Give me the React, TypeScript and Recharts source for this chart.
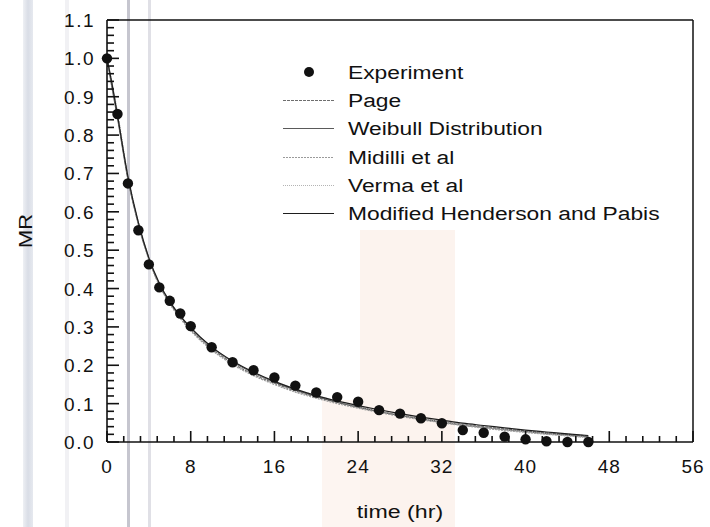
import React from 'react';
import { ComposedChart, Line, Scatter, XAxis, YAxis, ZAxis, ReferenceLine, Legend } from 'recharts';

// ---------- data ----------
const expTime = [0, 1, 2, 3, 4, 5, 6, 7, 8, 10, 12, 14, 16, 18, 20, 22, 24, 26, 28, 30, 32, 34, 36, 38, 40, 42, 44, 46];
const expMR = [1.0, 0.855, 0.674, 0.552, 0.463, 0.403, 0.368, 0.335, 0.302, 0.247, 0.208, 0.187, 0.168, 0.147, 0.129, 0.117, 0.105, 0.083, 0.074, 0.062, 0.049, 0.031, 0.024, 0.014, 0.007, 0.002, 0.0, 0.0];

const modelTime = [0, 0.5, 1, 2, 3, 4, 5, 6, 7, 8, 10, 12, 14, 16, 18, 20, 22, 24, 26, 28, 30, 32, 34, 36, 38, 40, 42, 44, 46];
const pageMR = [1, 0.93, 0.855, 0.69, 0.57, 0.478, 0.41, 0.362, 0.325, 0.293, 0.243, 0.205, 0.176, 0.153, 0.133, 0.117, 0.103, 0.091, 0.08, 0.07, 0.061, 0.053, 0.046, 0.04, 0.034, 0.029, 0.024, 0.02, 0.016];
const weibullMR = [1, 0.92, 0.845, 0.685, 0.568, 0.478, 0.412, 0.365, 0.328, 0.297, 0.247, 0.209, 0.18, 0.156, 0.136, 0.119, 0.104, 0.091, 0.079, 0.069, 0.06, 0.052, 0.044, 0.038, 0.032, 0.027, 0.022, 0.018, 0.014];
const midilliMR = [1, 0.925, 0.85, 0.688, 0.566, 0.474, 0.408, 0.36, 0.322, 0.29, 0.24, 0.202, 0.173, 0.15, 0.13, 0.114, 0.1, 0.088, 0.077, 0.067, 0.058, 0.05, 0.043, 0.036, 0.03, 0.025, 0.02, 0.016, 0.012];
const vermaMR = [1, 0.935, 0.86, 0.695, 0.575, 0.482, 0.415, 0.366, 0.33, 0.298, 0.248, 0.21, 0.181, 0.158, 0.138, 0.121, 0.106, 0.093, 0.081, 0.071, 0.062, 0.053, 0.045, 0.038, 0.032, 0.026, 0.021, 0.016, 0.011];
const modHendersonMR = [1, 0.93, 0.852, 0.692, 0.572, 0.48, 0.414, 0.366, 0.329, 0.298, 0.248, 0.211, 0.182, 0.158, 0.138, 0.121, 0.107, 0.095, 0.084, 0.074, 0.065, 0.057, 0.049, 0.043, 0.037, 0.031, 0.026, 0.021, 0.017];

const xMajorTicks = [0, 8, 16, 24, 32, 40, 48, 56];
const yMajorLabels = ['0.0', '0.1', '0.2', '0.3', '0.4', '0.5', '0.6', '0.7', '0.8', '0.9', '1.0', '1.1'];

const seriesNames = ['Page', 'Weibull Distribution', 'Midilli et al', 'Verma et al', 'Modified Henderson and Pabis'];
const seriesKeys = ['page', 'weibull', 'midilli', 'verma', 'modHP'];
const seriesValues = [pageMR, weibullMR, midilliMR, vermaMR, modHendersonMR];
const seriesColors = ['#6e6e6e', '#5a5a5a', '#9a9a9a', '#b4b4b4', '#1e1e1e'];
const seriesDash = ['3 1', undefined, '2 1', '1 1', undefined];

// ---------- derived tables ----------
const expData = expTime.map((t, i) => ({ t, mr: expMR[i] }));
const modelData = modelTime.map((t, i) => {
  const row: Record<string, number> = { t };
  seriesKeys.forEach((k, j) => { row[k] = seriesValues[j][i]; });
  return row;
});

const xTicks = Array.from({ length: 36 }, (_, i) => +(i * 1.6).toFixed(2));
const yTicks = Array.from({ length: 56 }, (_, i) => +(i * 0.02).toFixed(2));

const FONT = 'Liberation Sans, Arial, sans-serif';
const TEXT_COLOR = '#111111';

const isMajorX = (v: number) => xMajorTicks.some((m) => Math.abs(m - v) < 1e-6);
const isMajorY = (v: number) => Math.abs(v * 10 - Math.round(v * 10)) < 1e-6;

const XTick = (props: any) => {
  const { x, y, payload } = props;
  const v = payload.value as number;
  const major = isMajorX(v);
  const nx = Number(x);
  const ny = Number(y);
  return (
    <g>
      <line x1={nx} x2={nx} y1={ny} y2={ny - (major ? 11 : 6)} stroke="#111111" strokeWidth={1.6} />
      <text x={nx} y={ny + 31} textAnchor="middle" fontFamily={FONT} fontSize={19} letterSpacing={1} fill={TEXT_COLOR}>
        {major ? String(Math.round(v)) : ''}
      </text>
    </g>
  );
};

const YTick = (props: any) => {
  const { x, y, payload } = props;
  const v = payload.value as number;
  const major = isMajorY(v);
  const nx = Number(x);
  const ny = Number(y);
  return (
    <g>
      <line x1={nx} x2={nx + (major ? 12 : 7)} y1={ny} y2={ny} stroke="#111111" strokeWidth={1.6} />
      <text x={nx - 12} y={ny + 7} textAnchor="end" fontFamily={FONT} fontSize={19} letterSpacing={1.5} fill={TEXT_COLOR}>
        {major ? yMajorLabels[Math.round(v * 10)] : ''}
      </text>
    </g>
  );
};

const XTitle = (props: any) => {
  const vb = props.viewBox || { x: 107, y: 442, width: 586, height: 85 };
  const cx = vb.x + vb.width / 2;
  return (
    <text transform={`translate(${cx}, ${vb.y + 76}) scale(1.22,1)`} textAnchor="middle" fontFamily={FONT} fontSize={19} fill={TEXT_COLOR}>
      time (hr)
    </text>
  );
};

const YTitle = (props: any) => {
  const vb = props.viewBox || { x: 0, y: 20, width: 107, height: 422 };
  const cy = vb.y + vb.height / 2;
  return (
    <text transform={`translate(32, ${cy}) rotate(-90) scale(1.15,1)`} textAnchor="middle" fontFamily={FONT} fontSize={19} fill={TEXT_COLOR}>
      MR
    </text>
  );
};

const LegendBox = () => {
  const top = 17;
  const step = 28.2;
  return (
    <svg width={420} height={170} style={{ display: 'block' }}>
      <circle cx={34} cy={top} r={5} fill="#111" />
      <text transform={`translate(73, ${top + 7}) scale(1.2,1)`} fontFamily={FONT} fontSize={19} fill={TEXT_COLOR}>
        Experiment
      </text>
      {seriesNames.map((name, i) => {
        const cy = Math.round(top + step * (i + 1)) + 0.5;
        return (
          <g key={name}>
            <line x1={8} x2={59} y1={cy} y2={cy} stroke={seriesColors[i]} strokeWidth={1.2} strokeDasharray={seriesDash[i]} />
            <text transform={`translate(73, ${cy + 6.5}) scale(1.2,1)`} fontFamily={FONT} fontSize={19} fill={TEXT_COLOR}>
              {name}
            </text>
          </g>
        );
      })}
    </svg>
  );
};

const BG_LAYERS = [
  { img: 'linear-gradient(to right, #eef0f4, #d9dde6, #e6e9ef)', size: '10px 527px', pos: '23px 0px' },
  { img: 'linear-gradient(#f1f1f4, #f1f1f4)', size: '4px 527px', pos: '65px 0px' },
  { img: 'linear-gradient(#c6c6cf, #c6c6cf)', size: '3px 527px', pos: '127px 0px' },
  { img: 'linear-gradient(#e0e0e6, #e0e0e6)', size: '3px 527px', pos: '148px 0px' },
  { img: 'linear-gradient(#fcf3ee, #fcf3ee)', size: '95px 297px', pos: '360px 230px' },
  { img: 'linear-gradient(#fdf5f1, #fdf5f1)', size: '40px 127px', pos: '322px 400px' },
];

export default function App() {
  return (
    <div
      style={{
        position: 'absolute',
        left: 0,
        top: 0,
        width: 710,
        height: 527,
        backgroundColor: '#ffffff',
        backgroundImage: BG_LAYERS.map((b) => b.img).join(', '),
        backgroundSize: BG_LAYERS.map((b) => b.size).join(', '),
        backgroundPosition: BG_LAYERS.map((b) => b.pos).join(', '),
        backgroundRepeat: 'no-repeat',
      }}
    >
      <ComposedChart width={710} height={527} data={modelData} margin={{ top: 20, right: 17, bottom: 0, left: 0 }}>
        <XAxis
          dataKey="t"
          type="number"
          domain={[0, 56]}
          ticks={xTicks}
          interval={0}
          tickSize={0}
          tickMargin={0}
          tick={<XTick />}
          axisLine={{ stroke: '#111', strokeWidth: 1.6 }}
          height={85}
          label={<XTitle />}
        />
        <YAxis
          type="number"
          domain={[0, 1.1]}
          ticks={yTicks}
          interval={0}
          tickSize={0}
          tickMargin={0}
          tick={<YTick />}
          axisLine={{ stroke: '#111', strokeWidth: 1.6 }}
          width={107}
          label={<YTitle />}
        />
        <ZAxis range={[85, 85]} />
        <Legend
          content={<LegendBox />}
          layout="horizontal"
          verticalAlign="middle"
          align="center"
          wrapperStyle={{ position: 'absolute', left: 275, top: 55, width: 420, height: 170 }}
        />
        <ReferenceLine y={1.1} stroke="#111" strokeWidth={1.5} />
        <ReferenceLine x={56} stroke="#111" strokeWidth={1.5} />
        {seriesKeys.map((k, i) => (
          <Line
            key={k}
            dataKey={k}
            name={seriesNames[i]}
            type="monotone"
            stroke={seriesColors[i]}
            strokeWidth={1.2}
            strokeDasharray={seriesDash[i]}
            dot={false}
            activeDot={false}
            isAnimationActive={false}
          />
        ))}
        <Scatter data={expData} dataKey="mr" name="Experiment" fill="#111" shape="circle" isAnimationActive={false} />
      </ComposedChart>
    </div>
  );
}
